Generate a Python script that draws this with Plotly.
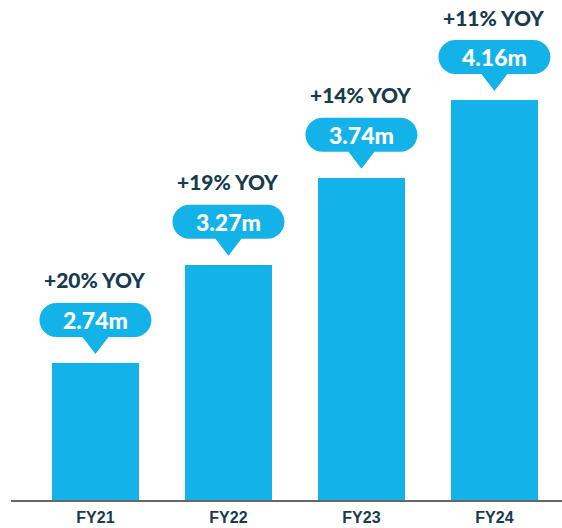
import plotly.graph_objects as go

# data
years = ["FY21", "FY22", "FY23", "FY24"]
users_m = [2.74, 3.27, 3.74, 4.16]
value_labels = ["2.74m", "3.27m", "3.74m", "4.16m"]
yoy_labels = ["+20% YOY", "+19% YOY", "+14% YOY", "+11% YOY"]

BLUE = "#13B3E9"
NAVY = "#173B4C"


def bubble_path(w=56, r=17, bot=26, tip=9, tw=13):
    # speech bubble in pixels relative to the top of the bar (y up)
    k = 0.5523 * r
    top = bot + 2 * r
    mid = bot + r
    xl, xr = -w + r, w - r
    return (
        f"M{xl},{top} L{xr},{top} "
        f"C{xr + k},{top} {w},{mid + k} {w},{mid} "
        f"C{w},{mid - k} {xr + k},{bot} {xr},{bot} "
        f"L{tw},{bot} L0,{tip} L{-tw},{bot} L{xl},{bot} "
        f"C{xl - k},{bot} {-w},{mid - k} {-w},{mid} "
        f"C{-w},{mid + k} {xl - k},{top} {xl},{top} Z"
    )


fig = go.Figure()
fig.add_trace(go.Bar(
    x=years, y=users_m, marker_color=BLUE, width=0.654,
    marker_line_width=0, hoverinfo="skip",
))

shapes = []
annotations = []
for yr, v, lab, yoy in zip(years, users_m, value_labels, yoy_labels):
    shapes.append(dict(
        type="path", xref="x", yref="y", xsizemode="pixel", ysizemode="pixel",
        xanchor=yr, yanchor=v, path=bubble_path(),
        fillcolor=BLUE, line_width=0, layer="above",
    ))
    annotations.append(dict(
        x=yr, y=v, xref="x", yref="y", text=lab, showarrow=False,
        yshift=43, font=dict(family="Lato", size=23, color="white", weight=900),
    ))
    annotations.append(dict(
        x=yr, y=v, xref="x", yref="y", text=yoy, showarrow=False,
        yshift=83, font=dict(family="Lato", size=21, color=NAVY, weight=900),
    ))

fig.update_layout(
    width=562, height=528,
    margin=dict(l=11, r=0, t=0, b=28),
    paper_bgcolor="white", plot_bgcolor="white",
    showlegend=False, bargap=0,
    shapes=shapes, annotations=annotations,
    xaxis=dict(
        range=[-0.635, 3.508], showgrid=False, zeroline=False,
        showline=True, linecolor="#666666", linewidth=2,
        ticks="", ticklabelstandoff=2,
        tickfont=dict(family="Liberation Sans", size=16, color=NAVY, weight="bold"),
    ),
    yaxis=dict(range=[2.0, 4.70], visible=False, showgrid=False),
)

# the page's default body margin shifts the figure; remove it
fig.write_html(
    "out.html",
    config={"displayModeBar": False},
    post_script="document.body.style.margin='0';",
)
